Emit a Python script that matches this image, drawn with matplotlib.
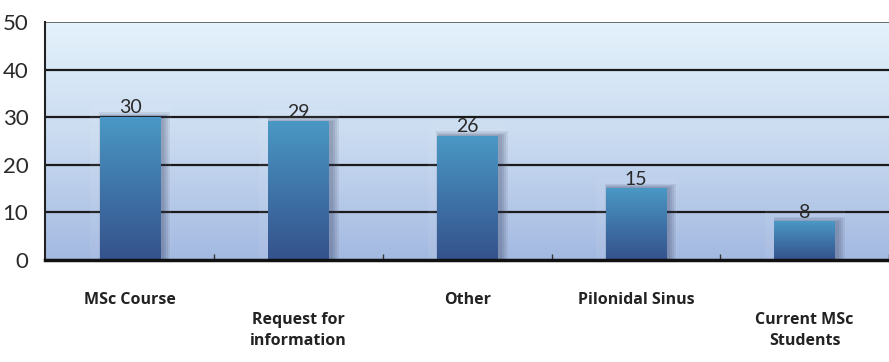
import numpy as np
import matplotlib
matplotlib.use("Agg")
import matplotlib.pyplot as plt
from matplotlib.colors import LinearSegmentedColormap
from matplotlib.patches import Rectangle

categories = ["MSc Course", "Request for\ninformation", "Other", "Pilonidal Sinus", "Current MSc\nStudents"]
values = [30, 29, 26, 15, 8]
yticks = [0, 10, 20, 30, 40, 50]
label_row = [0, 1, 0, 0, 1]

fig = plt.figure(figsize=(8.89, 3.62), dpi=100)
ax = fig.add_axes([45/889, 1-260/362, (889-45)/889, (260-22)/362])
x = np.arange(len(values))

# background gradient
bg = LinearSegmentedColormap.from_list("bg", ["#a3b9e1", "#c9daf0", "#e3f2fb"])
grad = np.linspace(0, 1, 256).reshape(-1, 1)
ax.imshow(grad, cmap=bg, origin="lower", extent=[0, 1, 0, 1], transform=ax.transAxes,
          aspect="auto", zorder=0)

# grid
for yv in yticks[1:-1]:
    ax.axhline(yv, color="#1a1a1a", lw=1.6, zorder=1)
ax.axhline(50, color="#555555", lw=1.2, zorder=1)

barcmap = LinearSegmentedColormap.from_list("bar", ["#35528c", "#3f74a8", "#4a98c5"])
w = 0.36
for xi, v in zip(x, values):
    # faint backing box
    ax.add_patch(Rectangle((xi - 0.235, 0), 0.47, v + 2.5, facecolor="white", alpha=0.06,
                           edgecolor="#e8f0fa", lw=0.6, zorder=1.5))
    # soft shadow
    for k in range(4):
        d = 0.008 * (k + 1)
        ax.add_patch(Rectangle((xi - w/2 - d*0.5 + 0.012, 0), w + 2*d, v + 0.25*(k+1),
                               facecolor="#1a2448", alpha=0.09, lw=0, zorder=2))
    ax.imshow(grad, cmap=barcmap, origin="lower", extent=[xi - w/2, xi + w/2, 0, v],
              aspect="auto", zorder=3)
    ax.text(xi, v + 0.2, str(v), ha="center", va="bottom", fontsize=14, family="Lato",
            fontweight="normal", color="#2a2a2a", zorder=4)

ax.set_xlim(-0.504, 4.44)
ax.set_ylim(0, 50)

for s in ["top", "right"]:
    ax.spines[s].set_visible(False)
ax.spines["left"].set_color("#222222")
ax.spines["left"].set_linewidth(1.5)
ax.spines["bottom"].set_color("#111111")
ax.spines["bottom"].set_linewidth(2.5)
ax.spines["bottom"].set_zorder(5)

ax.set_yticks(yticks)
ax.set_yticklabels([str(t) for t in yticks], fontsize=16, family="Lato", fontweight="normal",
                   color="#2a2a2a")
ax.tick_params(axis="y", length=0, pad=12)
ax.set_xticks(x + 0.5, minor=False)
ax.set_xticklabels([])
ax.tick_params(axis="x", direction="in", length=4, width=1, color="#333333")

trans = matplotlib.transforms.blended_transform_factory(ax.transData, fig.transFigure)
for xi, lab, r in zip(x, categories, label_row):
    ypix = 292 if r == 0 else 312
    ax.text(xi, 1 - ypix/362, lab, transform=trans, ha="center", va="top", fontsize=11.5,
            family="Open Sans", fontweight="bold", color="#222222", linespacing=1.4,
            clip_on=False)

fig.savefig("out.png", dpi=100)
